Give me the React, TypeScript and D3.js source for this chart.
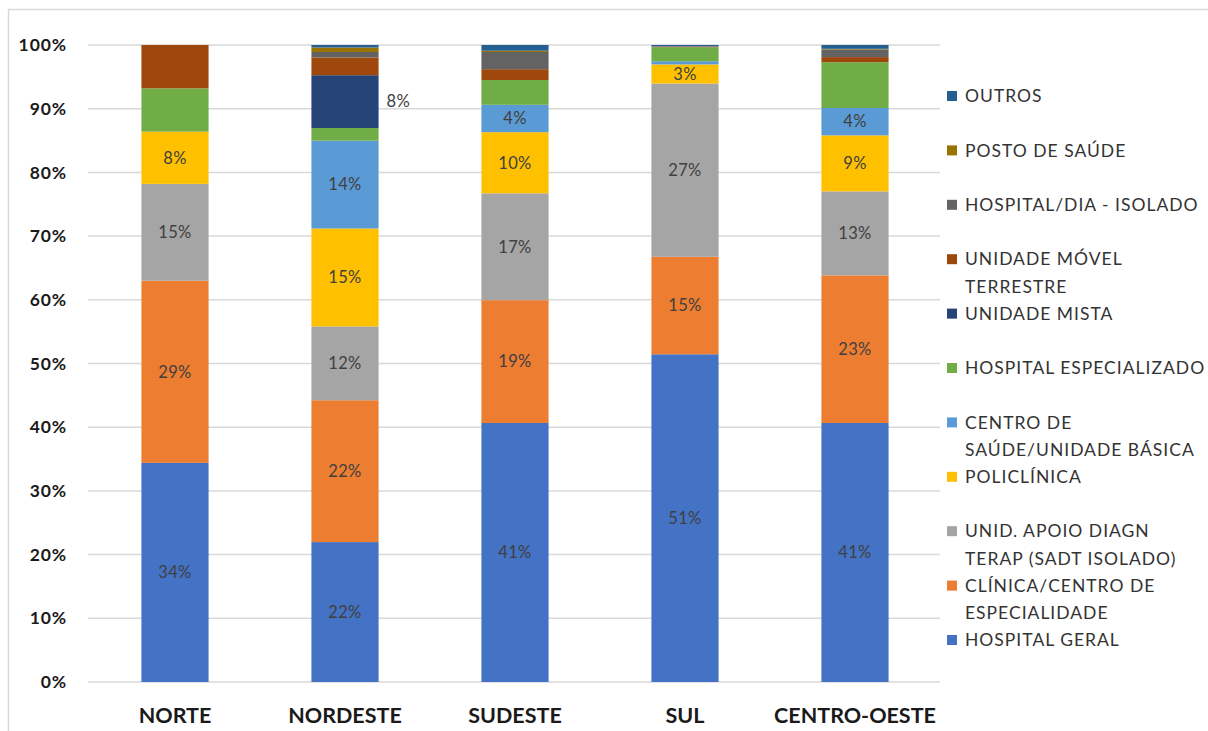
import React from "react";
import * as d3 from "d3";

const categories = ["NORTE", "NORDESTE", "SUDESTE", "SUL", "CENTRO-OESTE"];

const seriesNames = [
  "HOSPITAL GERAL",
  "CLÍNICA/CENTRO DE ESPECIALIDADE",
  "UNID. APOIO DIAGN TERAP (SADT ISOLADO)",
  "POLICLÍNICA",
  "CENTRO DE SAÚDE/UNIDADE BÁSICA",
  "HOSPITAL ESPECIALIZADO",
  "UNIDADE MISTA",
  "UNIDADE MÓVEL TERRESTRE",
  "HOSPITAL/DIA - ISOLADO",
  "POSTO DE SAÚDE",
  "OUTROS",
];

const seriesColors = [
  "#4472C4", "#ED7D31", "#A5A5A5", "#FFC000", "#5B9BD5",
  "#70AD47", "#264478", "#9E480E", "#636363", "#997300", "#255E91",
];

// values per series, in category order (percent)
const hospitalGeral = [34.4, 22.0, 40.7, 51.45, 40.7];
const clinica = [28.6, 22.3, 19.3, 15.3, 23.2];
const sadt = [15.2, 11.6, 16.8, 27.2, 13.2];
const policlinica = [8.2, 15.4, 9.6, 3.0, 8.8];
const centroSaude = [0.0, 13.8, 4.3, 0.5, 4.3];
const hospEspecializado = [6.8, 2.0, 3.9, 2.2, 7.2];
const unidadeMista = [0.0, 8.3, 0.0, 0.0, 0.0];
const unidadeMovel = [6.8, 2.8, 1.7, 0.1, 0.8];
const hospitalDia = [0.0, 0.85, 2.7, 0.05, 1.2];
const postoSaude = [0.0, 0.7, 0.2, 0.0, 0.1];
const outros = [0.0, 0.4, 0.9, 0.2, 0.6];

const seriesValues = [
  hospitalGeral, clinica, sadt, policlinica, centroSaude,
  hospEspecializado, unidadeMista, unidadeMovel, hospitalDia, postoSaude, outros,
];

// series whose values are labelled inside the bars
const labelledSeries = [0, 1, 2, 3, 4];
// series labelled outside (to the right of the bar)
const outsideLabelSeries = [6];

const yTicks = [0, 10, 20, 30, 40, 50, 60, 70, 80, 90, 100];

// legend entries (top to bottom) with their text lines
const legendOrder = [10, 9, 8, 7, 6, 5, 4, 3, 2, 1, 0];
const legendLines: string[][] = [
  ["OUTROS"],
  ["POSTO DE SAÚDE"],
  ["HOSPITAL/DIA - ISOLADO"],
  ["UNIDADE MÓVEL", "TERRESTRE"],
  ["UNIDADE MISTA"],
  ["HOSPITAL ESPECIALIZADO"],
  ["CENTRO DE", "SAÚDE/UNIDADE BÁSICA"],
  ["POLICLÍNICA"],
  ["UNID. APOIO DIAGN", "TERAP (SADT ISOLADO)"],
  ["CLÍNICA/CENTRO DE", "ESPECIALIDADE"],
  ["HOSPITAL GERAL"],
];

const W = 1208;
const H = 731;
const FONT = "Lato, 'Open Sans', sans-serif";

export default function App() {
  const x = d3.scaleBand<string>().domain(categories).range([90, 940]).paddingInner(0.605).paddingOuter(0.3025);
  const y = d3.scaleLinear().domain([0, 1]).range([682, 45]);
  const yTick = d3.scaleLinear().domain([0, 100]).range([682, 45]);

  const rows = categories.map((c, i) => {
    const r: any = { cat: c };
    seriesValues.forEach((s, k) => (r["s" + k] = s[i]));
    return r;
  });
  const keys = seriesValues.map((_, k) => "s" + k);
  const stacked = d3.stack().keys(keys).offset(d3.stackOffsetExpand)(rows);

  const legendY = d3.scaleLinear().domain([0, 10]).range([96, 640]);

  return (
    <svg
      width={W}
      height={H}
      style={{ position: "fixed", left: 0, top: 0, background: "#fff" }}
      fontFamily={FONT}
    >
      <rect x={0} y={0} width={W} height={H} fill="#fff" />
      <line x1={8.5} x2={8.5} y1={9} y2={H} stroke="#d9d9d9" strokeWidth={1.5} />
      <line x1={8} x2={W} y1={9.5} y2={9.5} stroke="#d9d9d9" strokeWidth={1.5} />

      {yTicks.map((t) => (
        <g key={t}>
          <line x1={88} x2={940} y1={yTick(t)} y2={yTick(t)} stroke="#d9d9d9" strokeWidth={1.5} />
          <text
            x={67}
            y={yTick(t)}
            dy="0.35em"
            textAnchor="end"
            fontSize={17.5}
            letterSpacing={0.9}
            fontWeight={700}
            fill="#1a1a1a"
          >
            {t}%
          </text>
        </g>
      ))}

      {stacked.map((layer, k) => (
        <g key={k} fill={seriesColors[k]}>
          {layer.map((d, i) => {
            const h = y(d[0]) - y(d[1]);
            if (h <= 0) return null;
            return (
              <rect
                key={i}
                x={x(categories[i])}
                width={x.bandwidth()}
                y={y(d[1])}
                height={h}
              />
            );
          })}
        </g>
      ))}

      {stacked.map((layer, k) =>
        layer.map((d, i) => {
          const v = seriesValues[k][i];
          if (labelledSeries.includes(k) && v >= 2.5) {
            return (
              <text
                key={k + "-" + i}
                x={(x(categories[i]) as number) + x.bandwidth() / 2}
                y={(y(d[0]) + y(d[1])) / 2}
                dy="0.35em"
                textAnchor="middle"
                fontSize={16.5}
                letterSpacing={0.3}
                fill="#404040"
              >
                {Math.round(v)}%
              </text>
            );
          }
          if (outsideLabelSeries.includes(k) && v >= 2.5) {
            return (
              <text
                key={k + "-" + i}
                x={(x(categories[i]) as number) + x.bandwidth() + 8}
                y={(y(d[0]) + y(d[1])) / 2}
                dy="0.35em"
                textAnchor="start"
                fontSize={16.5}
                letterSpacing={0.3}
                fill="#404040"
              >
                {Math.round(v)}%
              </text>
            );
          }
          return null;
        })
      )}

      {categories.map((c) => (
        <text
          key={c}
          x={(x(c) as number) + x.bandwidth() / 2}
          y={723}
          textAnchor="middle"
          fontSize={21.5}
          fontWeight={700}
          fill="#1a1a1a"
        >
          {c}
        </text>
      ))}

      {legendOrder.map((k, j) => {
        const cy = legendY(j);
        return (
          <g key={k}>
            <rect x={947} y={cy - 5} width={10} height={10} fill={seriesColors[k]} />
            {legendLines[j].map((line, li) => (
              <text
                key={li}
                x={965}
                y={cy + li * 27.5}
                dy="0.35em"
                fontSize={17.5}
                letterSpacing={1.0}
                fill="#333"
              >
                {line}
              </text>
            ))}
          </g>
        );
      })}
    </svg>
  );
}
